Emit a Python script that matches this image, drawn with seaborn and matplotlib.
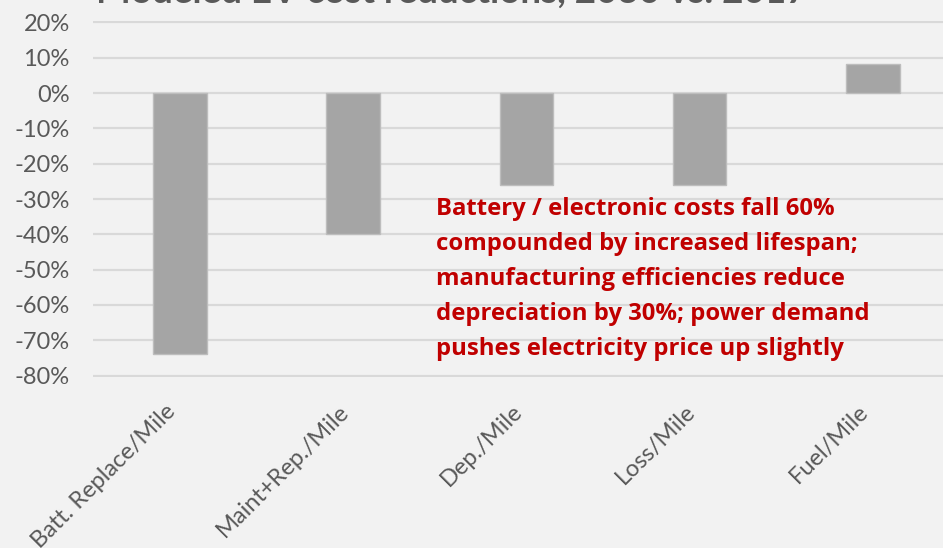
import matplotlib
matplotlib.use("Agg")
import matplotlib.pyplot as plt
import seaborn as sns
import pandas as pd
from matplotlib.ticker import FixedLocator

categories = ["Batt. Replace/Mile", "Maint+Rep./Mile", "Dep./Mile", "Loss/Mile", "Fuel/Mile"]
change = [-0.74, -0.40, -0.26, -0.26, 0.083]
y_ticks = [0.2, 0.1, 0.0, -0.1, -0.2, -0.3, -0.4, -0.5, -0.6, -0.7, -0.8]
title = "Modeled EV cost reductions, 2030 vs. 2017"
note_lines = ["Battery / electronic costs fall 60%",
              "compounded by increased lifespan;",
              "manufacturing efficiencies reduce",
              "depreciation by 30%; power demand",
              "pushes electricity price up slightly"]

df = pd.DataFrame({"category": categories, "change": change})

sns.set_theme(style="white")
plt.rcParams["font.family"] = ["Lato", "DejaVu Sans"]

bg = "#F2F2F2"
txt = "#595959"
W, H = 943, 548
fig = plt.figure(figsize=(W / 100, H / 100), dpi=100, facecolor=bg)
# plot area runs past the right edge of the figure
ax = fig.add_axes([93.4 / W, 1 - 377.3 / H, 866 / W, (377.3 - 20.7) / H])
ax.set_facecolor(bg)

sns.barplot(data=df, x="category", y="change", color="#A5A5A5", width=0.31,
            edgecolor="#BDBDBD", linewidth=1, saturation=1, ax=ax)

ax.set_ylim(-0.805, 0.205)
ax.yaxis.set_major_locator(FixedLocator(y_ticks))
ax.set_yticklabels([f"{round(v * 100)}%" for v in y_ticks])
ax.grid(axis="y", color="#D9D9D9", linewidth=1.6)
ax.set_axisbelow(True)
for s in ax.spines.values():
    s.set_visible(False)
ax.set_xlabel("")
ax.set_ylabel("")
ax.tick_params(axis="y", length=0, pad=17, labelsize=17, labelcolor=txt)
ax.tick_params(axis="x", length=0, pad=17, labelsize=17, labelcolor=txt)
for lab in ax.get_xticklabels():
    lab.set_rotation(45)
    lab.set_ha("right")
    lab.set_va("top")
    lab.set_rotation_mode("default")

for i, line in enumerate(note_lines):
    fig.text(436 / W, 1 - (215 + 35 * i) / H, line, color="#C00000",
             fontsize=17.2, fontweight="bold", family=["Open Sans", "DejaVu Sans"],
             ha="left", va="baseline")

fig.text(96 / W, 1 - 2.5 / H, title, color=txt, fontsize=26.5, fontweight="bold",
         ha="left", va="baseline")

fig.savefig("out.png", dpi=100, facecolor=bg)
